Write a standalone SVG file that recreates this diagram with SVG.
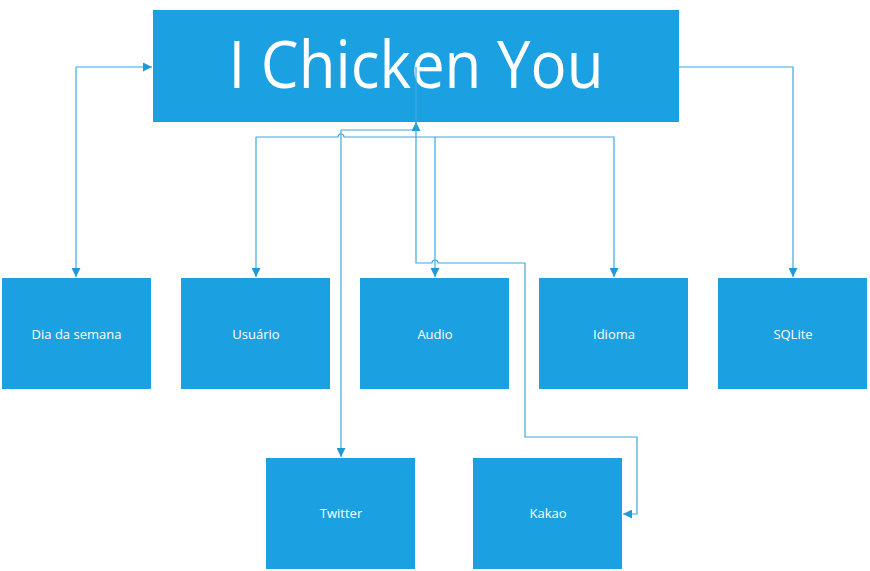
<svg xmlns="http://www.w3.org/2000/svg" width="870" height="571" viewBox="0 0 870 571">
<defs>
<style>
.box{fill:#1BA1E2;}
.lbl{fill:#fff;font-family:"Open Sans","Noto Sans",sans-serif;font-size:13px;text-anchor:middle;}
.title{fill:#fff;font-family:"Open Sans","Noto Sans",sans-serif;font-size:66px;text-anchor:middle;}
.c{fill:none;stroke:#3DA8E0;stroke-width:1.2;}
</style>
<marker id="ah" viewBox="0 0 10 10" refX="10" refY="5" markerWidth="9" markerHeight="9" markerUnits="userSpaceOnUse" orient="auto">
<path d="M0,0 L10,5 L0,10 z" fill="#1E9AD8"/>
</marker>
</defs>
<rect width="870" height="571" fill="#fff"/>
<g id="main"><rect class="box" x="153" y="10" width="526" height="112"/><text class="title" x="416" y="88" textLength="375" lengthAdjust="spacingAndGlyphs">I Chicken You</text></g>
<g id="dia"><rect class="box" x="2" y="278" width="149" height="111"/><text class="lbl" x="76.5" y="339">Dia da semana</text></g>
<g id="usuario"><rect class="box" x="181" y="278" width="149" height="111"/><text class="lbl" x="256" y="339">Usuário</text></g>
<g id="audio"><rect class="box" x="360" y="278" width="149" height="111"/><text class="lbl" x="435" y="339">Audio</text></g>
<g id="idioma"><rect class="box" x="539" y="278" width="149" height="111"/><text class="lbl" x="614" y="339">Idioma</text></g>
<g id="sqlite"><rect class="box" x="718" y="278" width="149" height="111"/><text class="lbl" x="793" y="339">SQLite</text></g>
<g id="twitter"><rect class="box" x="266" y="458" width="149" height="111"/><text class="lbl" x="341" y="518">Twitter</text></g>
<g id="kakao"><rect class="box" x="473" y="458" width="149" height="111"/><text class="lbl" x="548" y="518">Kakao</text></g>
<g id="connectors">
<path class="c" d="M76,67 L152,67" marker-end="url(#ah)"/>
<path class="c" d="M76,67 L76,277" marker-end="url(#ah)"/>
<path class="c" d="M679,67 L793,67 L793,277" marker-end="url(#ah)"/>
<path class="c" d="M256,137 L256,277" marker-end="url(#ah)"/>
<path class="c" d="M256,137 L338,137 A3,3 0 0 1 344,137 L614,137 L614,277" marker-end="url(#ah)"/>
<path class="c" d="M435,137 L435,277" marker-end="url(#ah)"/>
<path class="c" d="M341,130 L341,457" marker-end="url(#ah)"/>
<path class="c" d="M341,130 L416,130 L416,122" marker-end="url(#ah)"/>
<path class="c" d="M416,67 L416,263 L432,263 A3,3 0 0 1 438,263 L525,263 L525,437 L637,437 L637,514 L623,514" marker-end="url(#ah)"/>
</g>
</svg>
